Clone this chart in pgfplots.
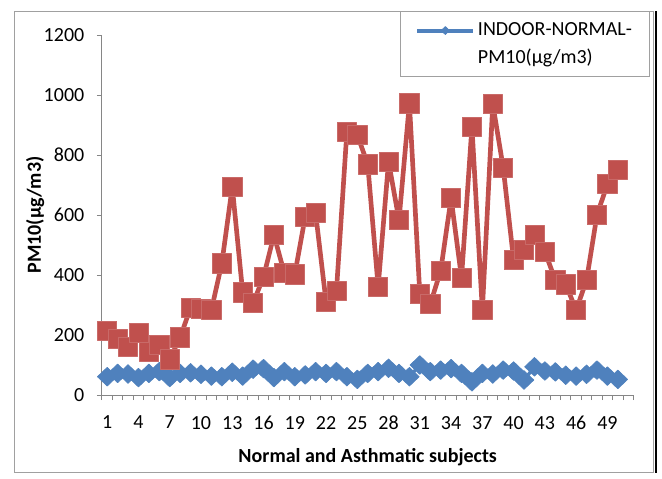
\documentclass[border=0pt]{standalone}
\usepackage{pgfplots}
\pgfplotsset{compat=1.18}
\usepackage{fontspec}
\setmainfont{Carlito}
\definecolor{exred}{HTML}{C0504D}
\definecolor{exblue}{HTML}{4F81BD}
\definecolor{axgray}{HTML}{868686}
\definecolor{framegray}{HTML}{A0A0A0}
\begin{document}
\begin{tikzpicture}[x=0.75pt,y=-0.75pt]
\path[use as bounding box] (0,0) rectangle (662,479);
\draw[framegray, line width=0.75pt] (14,11) rectangle (653,472);
\draw[black, line width=1.5pt] (655.5,11) -- (655.5,473);
\begin{axis}[
  at={(76.5pt,-296.25pt)}, anchor=south west,
  scale only axis, width=398.6pt, height=270pt,
  xmin=0.5, xmax=51.5, ymin=0, ymax=1200,
  axis lines*=left,
  axis line style={draw=axgray, line width=0.75pt},
  xtick={1,4,...,49},
  minor xtick={0.5,1.5,...,51.5},
  ytick={0,200,...,1200},
  tick align=outside,
  major x tick style={draw=none},
  tick style={draw=axgray, line width=0.75pt},
  major tick length=3.75pt, minor tick length=3.75pt,
  /pgf/number format/assume math mode=true,
  /pgf/number format/1000 sep={},
  ticklabel style={font=\fontsize{15}{18}\selectfont},
  xticklabel style={yshift=-8.5pt},
  yticklabel style={xshift=-6pt},
  xlabel={Normal and Asthmatic subjects},
  ylabel={PM10(µg/m3)},
  label style={font=\fontsize{15}{18}\selectfont\bfseries},
  xlabel style={at={(axis description cs:0.5,-0.172)}, anchor=center},
  ylabel style={at={(axis description cs:-0.126,0.5)}, anchor=center},
  legend style={at={(axis description cs:0.561,1.067)}, anchor=north west,
    draw=framegray, line width=0.75pt, fill=white,
    font=\fontsize{15}{20}\selectfont,
    cells={align=left, anchor=west, font=\fontsize{15}{20}\selectfont},
    inner xsep=11pt, inner ysep=6pt},
  legend image code/.code={
    \draw[#1, mark repeat=2, mark phase=2, line width=3pt, mark size=3pt, yshift=10pt]
      plot coordinates {(0pt,0pt) (21pt,0pt) (42pt,0pt)};},
]
\addplot[exblue, line width=2.5pt, line join=round, mark=diamond*,
  mark options={solid, fill=exblue, draw=exblue, line width=0.5pt, xscale=1.4},
  mark size=7pt] coordinates {
(1,61) (2,72) (3,70) (4,58) (5,72) (6,78) (7,58) (8,72) (9,74) (10,69)
(11,63) (12,61) (13,76) (14,63) (15,86) (16,88) (17,58) (18,78) (19,61) (20,67)
(21,78) (22,72) (23,78) (24,61) (25,52) (26,72) (27,78) (28,89) (29,72) (30,61)
(31,100) (32,78) (33,83) (34,88) (35,72) (36,44) (37,72) (38,70) (39,83) (40,80)
(41,50) (42,94) (43,80) (44,77) (45,66) (46,63) (47,69) (48,83) (49,63) (50,52)
};
\addlegendentry{INDOOR-NORMAL-\\[1.5pt]PM10(µg/m3)}
\addplot[exred, line width=3.5pt, line join=round, mark=square*,
  mark options={solid, fill=exred, draw=exred!85!white, line width=0.5pt},
  mark size=7.2pt, forget plot] coordinates {
(1,215) (2,186) (3,161) (4,206) (5,144) (6,167) (7,119) (8,192) (9,291) (10,286)
(11,284) (12,439) (13,694) (14,342) (15,306) (16,394) (17,533) (18,406) (19,402) (20,594)
(21,606) (22,311) (23,348) (24,878) (25,867) (26,769) (27,361) (28,778) (29,583) (30,972)
(31,336) (32,303) (33,414) (34,656) (35,391) (36,894) (37,283) (38,970) (39,758) (40,450)
(41,483) (42,533) (43,478) (44,383) (45,369) (46,283) (47,383) (48,600) (49,703) (50,750)
};
\end{axis}
\end{tikzpicture}
\end{document}
